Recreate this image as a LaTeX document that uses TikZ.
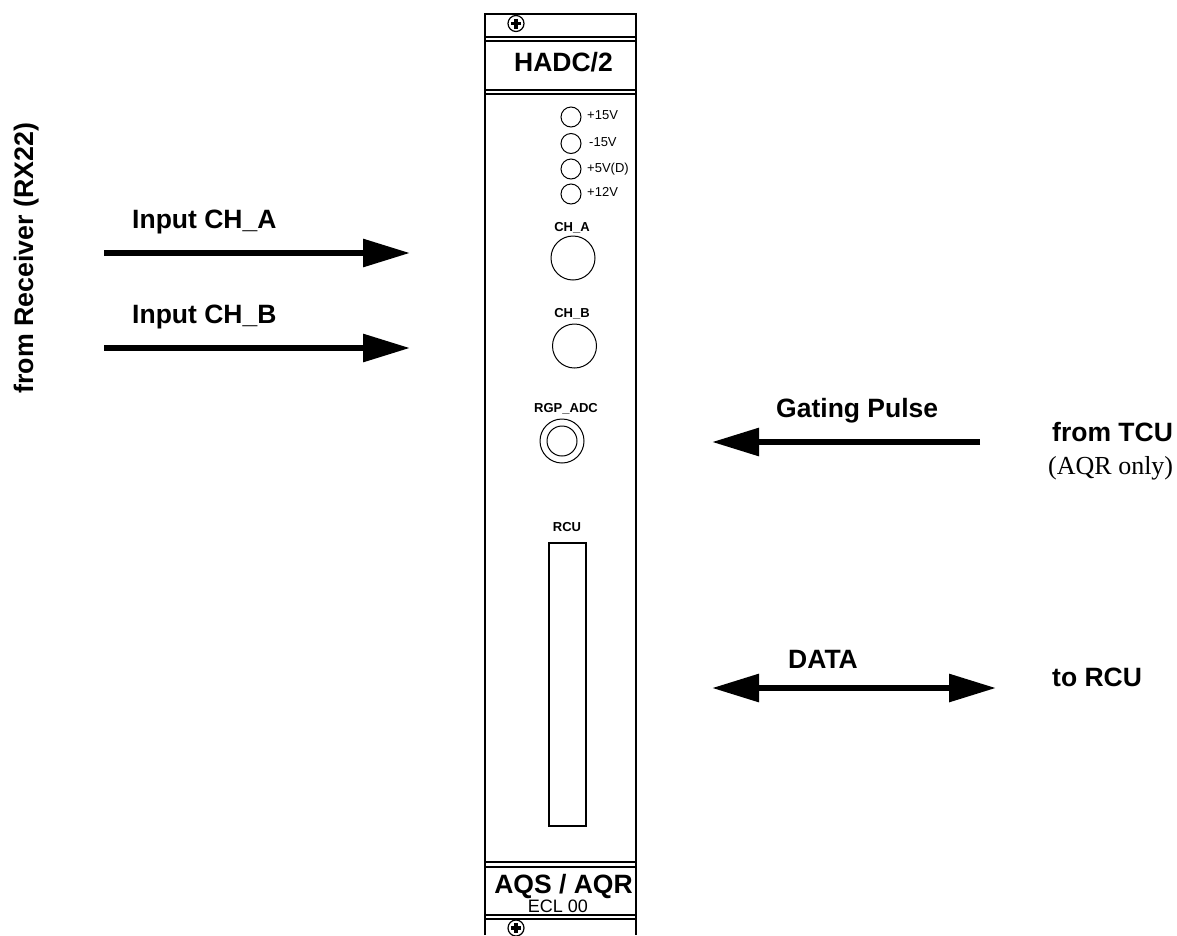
\documentclass[tikz,border=0pt]{standalone}
\usepackage{fontspec}
\setmainfont{Liberation Sans}
\newfontfamily\serifnote{Liberation Serif}
\usetikzlibrary{arrows.meta}

\begin{document}
\begin{tikzpicture}[
  x=1pt, y=-1pt,
  panel/.style={line width=2pt},
  heavy/.style={font=\fontsize{26.5}{28}\selectfont\bfseries, inner sep=0pt, anchor=base west},
  tiny/.style={font=\fontsize{13}{15}\selectfont, inner sep=0pt, anchor=base west},
  tinybold/.style={font=\fontsize{13}{15}\selectfont\bfseries, inner sep=0pt, anchor=base},
  led/.style={draw, circle, line width=1pt, minimum size=20pt, inner sep=0pt},
  jack/.style={draw, circle, line width=1pt, minimum size=44pt, inner sep=0pt},
  flow/.style={line width=6pt, -{Triangle[length=47pt,width=27pt]}},
  both/.style={line width=6pt, {Triangle[length=47pt,width=27pt]}-{Triangle[length=47pt,width=27pt]}}
]
\useasboundingbox (0,0) rectangle (1177,935);

% panel outline and bars
\draw[panel] (485,935) -- (485,14) -- (636,14) -- (636,935);
\foreach \yy in {36.5,41,90,94,862,867,915,918.5}
  \draw[panel] (485,\yy) -- (636,\yy);

% screws
\foreach \yy in {23.5,928} {
  \node[draw, circle, line width=1.2pt, minimum size=16pt, inner sep=0pt] at (516,\yy) {};
  \draw[line width=3.5pt] (511,\yy) -- (521,\yy);
  \draw[line width=3.5pt] (516,\yy-5) -- (516,\yy+5);
}

\node[heavy, anchor=base] (title) at (563.5,71) {HADC/2};
\node[heavy, anchor=base] (model) at (563.5,893) {AQS / AQR};
\node[font=\fontsize{18}{20}\selectfont, inner sep=0pt, anchor=base] (ecl) at (558,912) {ECL 00};

% leds
\node[led] (l1) at (571,117) {};
\node[led] (l2) at (571,143.5) {};
\node[led] (l3) at (571,169) {};
\node[led] (l4) at (571,194) {};
\node[tiny] at (587,119.5) {+15V};
\node[tiny] at (589,146) {-15V};
\node[tiny] at (587,172) {+5V(D)};
\node[tiny] at (587,196.5) {+12V};

% connectors
\node[tinybold] at (572,231) {CH\_A};
\node[jack] (cha) at (573,258) {};
\node[tinybold] at (572,317) {CH\_B};
\node[jack] (chb) at (574.5,346) {};
\node[tinybold] at (566,412) {RGP\_ADC};
\node[jack] (rgp) at (562,441) {};
\node[draw, circle, line width=1pt, minimum size=30pt, inner sep=0pt] (rgpin) at (562,441) {};
\node[tinybold] at (567,531) {RCU};
\node[draw, line width=2pt, minimum width=37pt, minimum height=283pt, inner sep=0pt] (rcu) at (567.5,684.5) {};

% signals
\coordinate (ina) at (104,253);
\coordinate (inaend) at (410,253);
\coordinate (inb) at (104,348);
\coordinate (inbend) at (410,348);
\coordinate (gate) at (980,442);
\coordinate (gateend) at (712,442);
\coordinate (dataa) at (712,688);
\coordinate (datab) at (996,688);
\draw[flow] (ina) -- (inaend);
\draw[flow] (inb) -- (inbend);
\draw[flow] (gate) -- (gateend);
\draw[both] (dataa) -- (datab);

\node[heavy] at (132,228) {Input CH\_A};
\node[heavy] at (132,323) {Input CH\_B};
\node[heavy] at (776,417) {Gating Pulse};
\node[heavy] at (788,668) {DATA};
\node[heavy] at (1052,441) {from TCU};
\node[font=\serifnote\fontsize{26}{28}\selectfont, inner sep=0pt, anchor=base west] at (1048,474) {(AQR only)};
\node[heavy] at (1052,686) {to RCU};
\node[heavy, font=\fontsize{26.8}{28}\selectfont\bfseries, anchor=base, rotate=90] at (33,258) {from Receiver (RX22)};
\end{tikzpicture}
\end{document}
